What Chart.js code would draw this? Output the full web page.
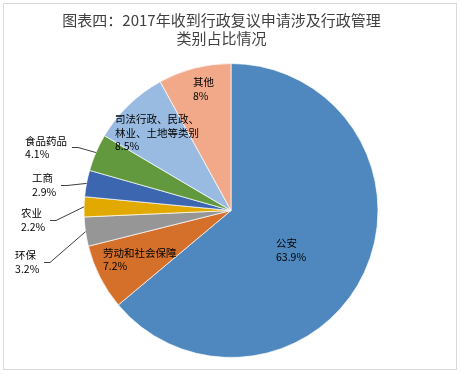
<!DOCTYPE html>
<html>
<head>
<meta charset="utf-8">
<script src="https://cdn.jsdelivr.net/npm/chart.js@4/dist/chart.umd.min.js"></script>
<style>
  html, body { margin: 0; padding: 0; background: #fff; }
  canvas { display: block; }
</style>
</head>
<body>
<canvas id="chart" width="462" height="374"></canvas>
<script>
  const TITLE = ["图表四：2017年收到行政复议申请涉及行政管理", "类别占比情况"];
  const CATEGORIES = [
    "公安",
    "劳动和社会保障",
    "环保",
    "农业",
    "工商",
    "食品药品",
    ["司法行政、民政、", "林业、土地等类别"],
    "其他"
  ];
  const SHARES = [63.9, 7.2, 3.2, 2.2, 2.9, 4.1, 8.5, 8];
  const COLORS = ["#4F88BE", "#D5702B", "#969696", "#E2AA00", "#3C66AF", "#62993F", "#9ABBE1", "#F1A98A"];

  // label anchor (left edge, first line centre) as a fraction of the radius from the pie centre
  const LABEL_LAYOUT = [
    { fx: 0.306, fy: 0.224 },
    { fx: -0.871, fy: 0.286 },
    { fx: -1.469, fy: 0.306, leader: true },
    { fx: -1.429, fy: 0.02, leader: true },
    { fx: -1.354, fy: -0.218, leader: true },
    { fx: -1.401, fy: -0.476, leader: true },
    { fx: -0.789, fy: -0.619 },
    { fx: -0.259, fy: -0.871 }
  ];

  const FONT = '"Noto Sans CJK SC", "Noto Sans", sans-serif';

  // white background, thin grey frame and the (slightly off-centre) title
  const frame = {
    id: "frame",
    beforeDraw(chart) {
      const ctx = chart.ctx;
      ctx.save();
      ctx.fillStyle = "#fff";
      ctx.fillRect(0, 0, chart.width, chart.height);
      ctx.strokeStyle = "#d9d9d9";
      ctx.lineWidth = 1;
      ctx.strokeRect(3.5, 3.5, 453, 366);
      ctx.fillStyle = "#404040";
      ctx.font = `15px ${FONT}`;
      ctx.textAlign = "center";
      ctx.textBaseline = "middle";
      TITLE.forEach((line, i) => ctx.fillText(line, 221.5, 20 + i * 18));
      ctx.restore();
    }
  };

  const sliceLabels = {
    id: "sliceLabels",
    afterDatasetsDraw(chart) {
      const ctx = chart.ctx;
      const arcs = chart.getDatasetMeta(0).data;
      const lineH = 13.5;
      ctx.save();
      ctx.font = `10.5px ${FONT}`;
      ctx.textAlign = "left";
      ctx.textBaseline = "middle";
      arcs.forEach((arc, i) => {
        const { x, y, startAngle, endAngle, outerRadius } = arc.getProps(
          ["x", "y", "startAngle", "endAngle", "outerRadius"], true
        );
        const layout = LABEL_LAYOUT[i];
        const name = CATEGORIES[i];
        const lines = (Array.isArray(name) ? name : [name]).concat(`${SHARES[i]}%`);
        const lx = x + layout.fx * outerRadius;
        const ly = y + layout.fy * outerRadius;
        ctx.fillStyle = "#000";
        let maxW = 0;
        lines.forEach((line, k) => {
          ctx.fillText(line, lx, ly + k * lineH);
          maxW = Math.max(maxW, ctx.measureText(line).width);
        });
        if (layout.leader) {
          const mid = (startAngle + endAngle) / 2;
          const ex = x + Math.cos(mid) * outerRadius;
          const ey = y + Math.sin(mid) * outerRadius;
          const sx = Math.round(lx + maxW + 5);
          const sy = Math.round(ly + (lines.length - 1) * lineH / 2) + 0.5;
          ctx.strokeStyle = "#404040";
          ctx.lineWidth = 1;
          ctx.beginPath();
          ctx.moveTo(sx, sy);
          ctx.lineTo(sx + 6, sy);
          ctx.lineTo(ex, ey);
          ctx.stroke();
        }
      });
      ctx.restore();
    }
  };

  new Chart(document.getElementById("chart"), {
    type: "pie",
    data: {
      labels: CATEGORIES,
      datasets: [{
        data: SHARES,
        backgroundColor: COLORS,
        borderColor: "rgba(255,255,255,0.7)",
        borderWidth: 1,
        hoverOffset: 0
      }]
    },
    options: {
      responsive: false,
      animation: false,
      events: [],
      layout: { padding: { top: 63, bottom: 16, left: 0, right: 0 } },
      plugins: {
        legend: { display: false },
        tooltip: { enabled: false },
        title: { display: false }
      }
    },
    plugins: [frame, sliceLabels]
  });
</script>
</body>
</html>
